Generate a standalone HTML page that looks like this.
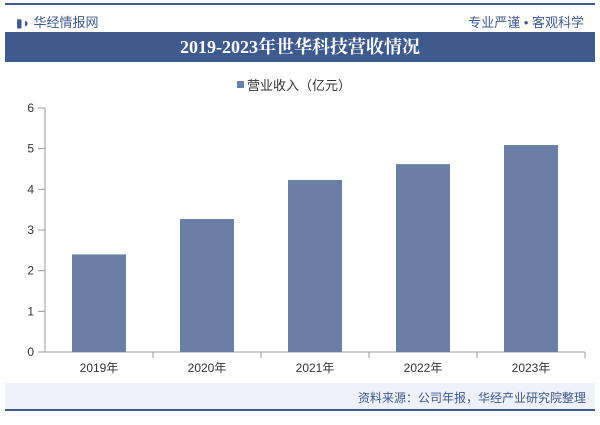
<!DOCTYPE html>
<html><head><meta charset="utf-8"><style>
body{margin:0;width:600px;height:425px;background:#fff;overflow:hidden;font-family:"Liberation Sans","Noto Sans CJK SC",sans-serif;position:relative}
.a{position:absolute}
</style></head><body>
<div class="a" style="left:5px;top:3px;width:590px;height:2px;background:#3f5a8c"></div>
<div class="a" style="left:16px;top:12px;font-size:13px;color:#3f5a8c"><span style="font-size:12px">▮◗</span> 华经情报网</div>
<div class="a" style="right:16px;top:12px;font-size:13px;color:#3f5a8c">专业严谨 • 客观科学</div>
<div class="a" style="left:5px;top:32px;width:590px;height:30px;background:#3f5a8c;color:#fff;text-align:center;line-height:30px;font-size:18px;font-family:'Liberation Serif','Noto Serif CJK SC',serif;font-weight:bold">2019-2023年世华科技营收情况</div>
<div class="a" style="left:5px;top:383px;width:590px;height:26px;background:#eef1f8"></div>
<div class="a" style="left:5px;top:409px;width:590px;height:2px;background:#3f5a8c"></div>
<svg class="a" style="left:0;top:0" width="600" height="425" id="c"></svg>
<div class="a" style="right:14px;top:389px;font-size:12px;color:#3f5a8c">资料来源：公司年报，华经产业研究院整理</div>
<script>
const categories=["2019年","2020年","2021年","2022年","2023年"];
const values=[2.4,3.27,4.23,4.62,5.09];
const ticks=[0,1,2,3,4,5,6];
const svg=document.getElementById('c');const ns='http://www.w3.org/2000/svg';
const x0=45,x1=585,y0=352,yt=108,ymax=6;
const y=v=>y0-(v/ymax)*(y0-yt);
const bw=(x1-x0)/categories.length;
function mk(t,a,txt){const e=document.createElementNS(ns,t);for(const k in a)e.setAttribute(k,a[k]);if(txt!=null)e.textContent=txt;svg.appendChild(e);return e;}
let lg=mk('rect',{x:237,y:81,width:7,height:7,fill:'#6a7fa6'});


let lt=mk('text',{x:247,y:90,'font-size':13,fill:'#333'},'营业收入（亿元）');


ticks.forEach(t=>{let e=mk('text',{x:34,y:y(t)+4,'font-size':12,fill:'#333','text-anchor':'end'},t);


let m=mk('line',{x1:38,x2:x0,y1:y(t),y2:y(t),stroke:'#999'});

});
let ax=mk('line',{x1:x0,x2:x0,y1:yt,y2:y0,stroke:'#999'});


let bx=mk('line',{x1:x0,x2:x1,y1:y0,y2:y0,stroke:'#999'});


categories.forEach((c,i)=>{const cx=x0+bw*(i+0.5);
let r=mk('rect',{x:cx-27,y:y(values[i]),width:54,height:y0-y(values[i]),fill:'#6a7fa6'});


let k=mk('line',{x1:x0+bw*(i+1),x2:x0+bw*(i+1),y1:y0,y2:y0+6,stroke:'#999'});


let t=mk('text',{x:cx,y:372,'font-size':12,fill:'#333','text-anchor':'middle'},c);

});
</script>
</body></html>
